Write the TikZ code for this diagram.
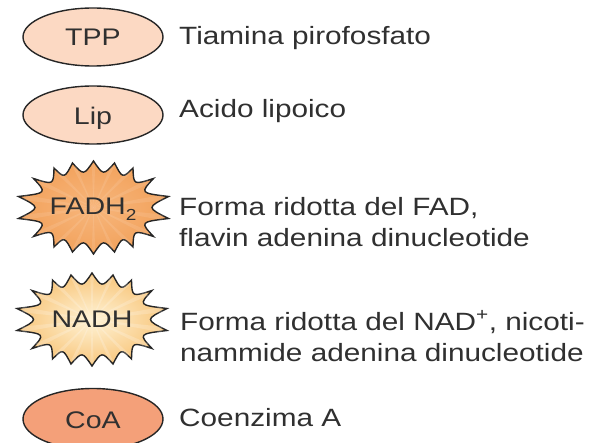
\documentclass[tikz,border=0pt]{standalone}
\usepackage{fontspec}
\setmainfont[FakeStretch=1.19]{Liberation Sans}
\usetikzlibrary{shapes.geometric,calc}
\definecolor{txt}{HTML}{303030}
\definecolor{peach}{HTML}{FCD9C3}
\definecolor{coral}{HTML}{F4A079}
\definecolor{fadin}{HTML}{F7B67C}
\definecolor{fadout}{HTML}{F2A25C}
\definecolor{nadin}{HTML}{FFF3D6}
\definecolor{nadout}{HTML}{F8C67C}
\tikzset{
  coenz/.style={ellipse,draw=black!85,line width=1.4pt,minimum width=140pt,minimum height=58pt,inner sep=0pt},
  inlabel/.style={anchor=base,text=txt,font=\fontsize{24}{24}\selectfont,inner sep=0pt},
  desc/.style={anchor=base west,align=left,text=txt,inner sep=0pt,font=\fontsize{25}{31}\selectfont},
  burstline/.style={draw=black!85,line width=1.4pt,line join=miter,miter limit=6},
  ray/.style={fill=white,draw=none}
}
\newcommand{\burst}[5]{% cx cy inner outer rays
  \begin{scope}[shift={(#1,#2)}]
  \shade[burstline,inner color=#3,outer color=#4]
    (75,-11) \foreach \cx/\cy/\tx/\ty in {
      53/0/75/11, 46.5/14.5/60/29, 40/22.5/39.5/39.5, 29/29/21/44.5, 9.8/32/0/46.5,
      -9.8/32/-21/44.5, -29/29/-39.5/39.5, -40/22.5/-60/29, -46.5/14.5/-75/11,
      -53/0/-75/-11, -46.5/-14.5/-60/-29, -40/-22.5/-39.5/-39.5, -29/-29/-21/-44.5, -9.8/-32/0/-46.5,
      9.8/-32/21/-44.5, 29/-29/39.5/-39.5, 40/-22.5/60/-29, 46.5/-14.5/75/-11}{
      .. controls (\cx,\cy) and (\cx,\cy) .. (\tx,\ty)
    } -- cycle;
  \foreach \tx/\ty in {70/10,55/26,36/36,19/41,0/43,-19/41,-36/36,-55/26,-70/10,-70/-10,-55/-26,-36/-36,-19/-41,0/-43,19/-41,36/-36,55/-26,70/-10}{
    \fill[ray,fill opacity=#5] (0,0) -- ($(\tx,\ty)+({-0.04*\ty},{0.04*\tx})$) -- ($(\tx,\ty)+({0.04*\ty},{-0.04*\tx})$) -- cycle;
  }
  \end{scope}
}
\begin{document}
\begin{tikzpicture}[x=1pt,y=-1pt]
\useasboundingbox (0,0) rectangle (594,443);
\clip (0,0) rectangle (594,443);
\node[coenz,fill=peach] (tpp) at (93,37) {};
\node[inlabel] (tpptext) at (93,46) {TPP};
\node[coenz,fill=peach] (lip) at (93,115) {};
\node[inlabel] (liptext) at (93,125) {Lip};
\burst{93.5}{207.5}{fadin}{fadout}{0.1}
\node[inlabel] (fadh) at (93,215) {FADH\raisebox{-0.4ex}{\fontsize{16}{16}\selectfont 2}};
\burst{92}{319.5}{nadin}{nadout}{0.2}
\node[inlabel] (nadh) at (92,328) {NADH};
\node[coenz,fill=coral,minimum height=61pt] (coa) at (93,419) {};
\node[inlabel] (coatext) at (93,428) {CoA};
\node[desc] (d1) at (179,45) {Tiamina pirofosfato};
\node[desc] (d2) at (179,118) {Acido lipoico};
\node[desc] (d3) at (179,247) {Forma ridotta del FAD,\\flavin adenina dinucleotide};
\node[desc] (d4) at (180,361) {Forma ridotta del NAD\textsuperscript{+}, nicoti-\\nammide adenina dinucleotide};
\node[desc] (d5) at (179,426) {Coenzima A};
\end{tikzpicture}
\end{document}
